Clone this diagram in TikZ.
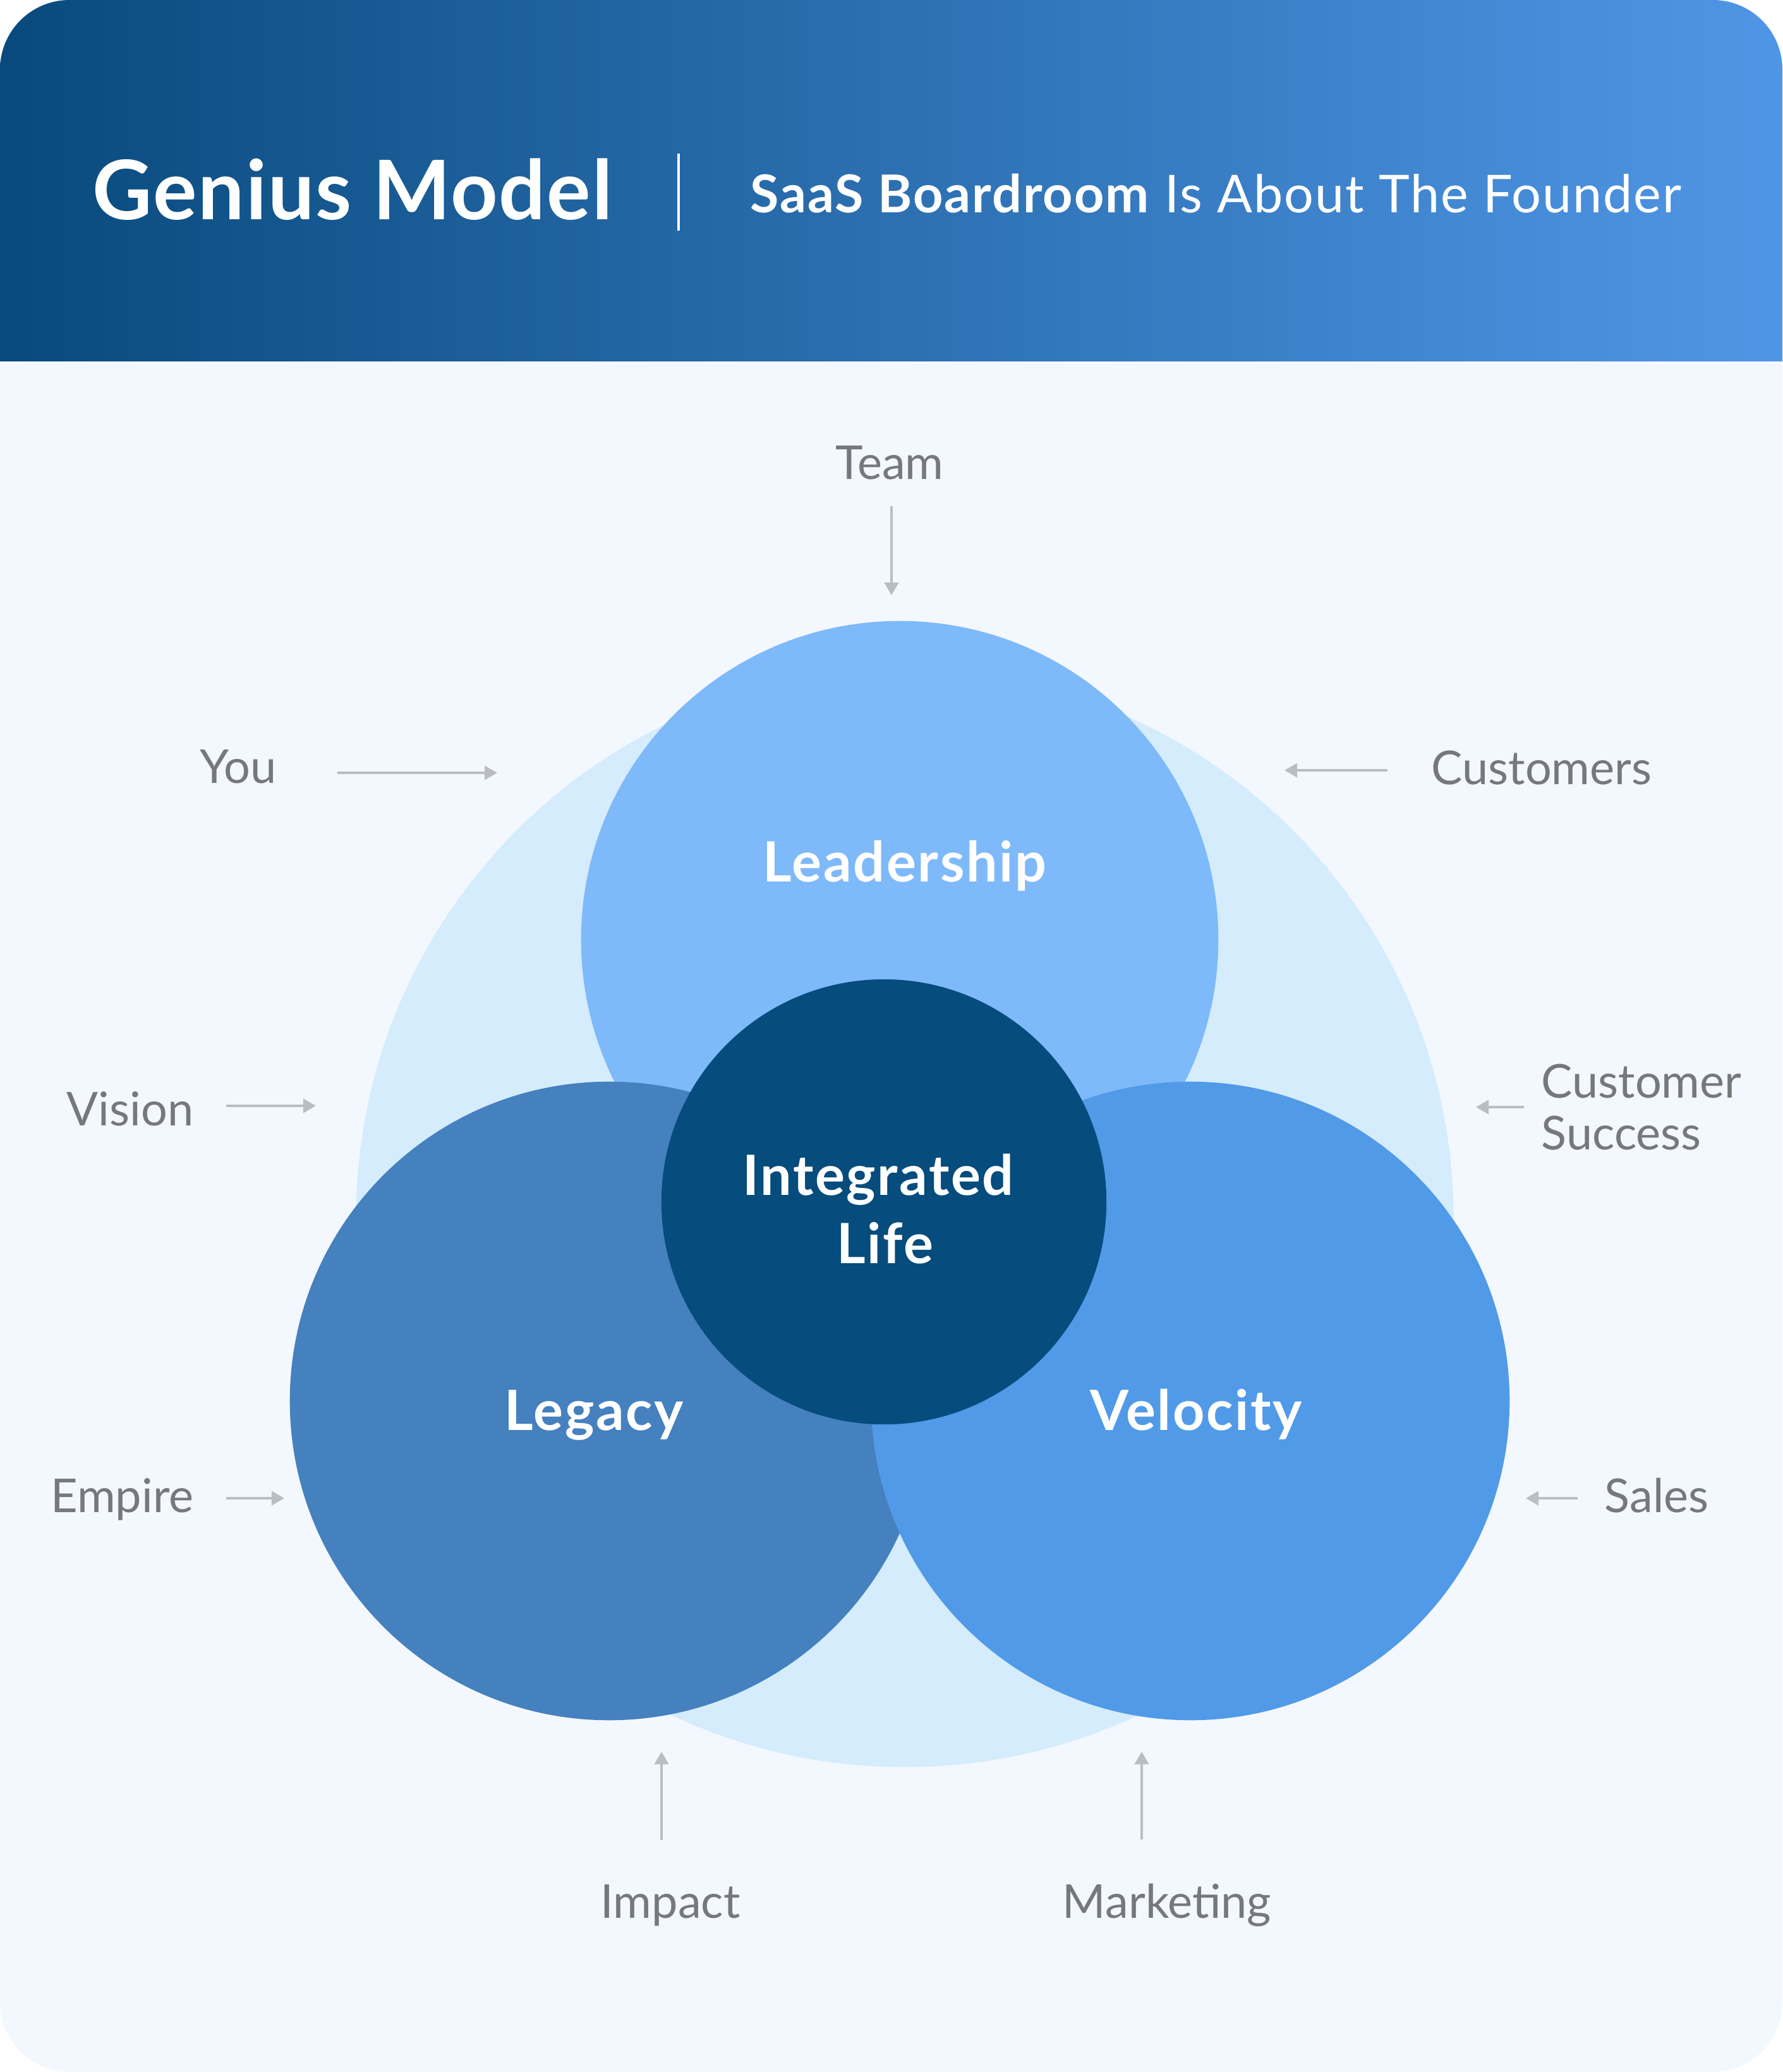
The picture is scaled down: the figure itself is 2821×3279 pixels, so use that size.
\documentclass[tikz,border=0pt]{standalone}
\usepackage{fontspec}
\setmainfont{Lato}
\usetikzlibrary{arrows.meta, positioning, shapes.geometric}

\definecolor{cardbg}{HTML}{F3F8FE}
\definecolor{headleft}{HTML}{084A7D}
\definecolor{headright}{HTML}{5096E6}
\definecolor{haloblue}{HTML}{D4ECFC}
\definecolor{leadblue}{HTML}{7EB9FA}
\definecolor{legacyblue}{HTML}{4580BF}
\definecolor{velocityblue}{HTML}{519AE8}
\definecolor{coreblue}{HTML}{064C7D}
\definecolor{labelgray}{HTML}{76787B}
\definecolor{arrowgray}{HTML}{BBBEC1}

\begin{document}
\begin{tikzpicture}[
    x=0.01cm, y=-0.01cm,
    ring/.style={circle, inner sep=0pt, draw=none},
    title/.style={
        font=\fontsize{25}{30}\selectfont\bfseries\addfontfeatures{LetterSpace=3},
        text=white,
        inner sep=0pt
    },
    tag/.style={
        font=\fontsize{21}{23.3}\selectfont,
        text=labelgray,
        inner sep=0pt
    },
    feed/.style={-{Triangle[length=0.2cm, width=0.22cm]}, line width=0.04cm, draw=arrowgray}
]
% card and header band
\fill[white] (0,0) rectangle (2821,3279);
\begin{scope}
\clip[rounded corners=1.1cm] (0,0) rectangle (2821,3279);
\fill[cardbg] (0,0) rectangle (2821,3279);
\shade[left color=headleft, right color=headright] (0,0) rectangle (2821,571);
\end{scope}

\node[anchor=base west, inner sep=0pt, text=white, font=\fontsize{37}{42}\selectfont\bfseries\addfontfeatures{LetterSpace=1.5}] (heading) at (146,348) {Genius Model};
\draw[white, line width=0.04cm] (1074,243) -- (1074,365);
\node[anchor=base west, inner sep=0pt, text=white, font=\fontsize{23.5}{28}\selectfont\addfontfeatures{LetterSpace=2.4}] (subheading) at (1187,337) {\textbf{SaaS Boardroom} Is About The Founder};

% circles
\node[ring, fill=haloblue, minimum size=17.36cm] (halo) at (1432,1928) {};
\node[ring, fill=leadblue, minimum size=10.08cm] (leadership) at (1424,1487) {};
\node[ring, fill=legacyblue, minimum size=10.1cm] (legacy) at (964,2217) {};
\node[ring, fill=velocityblue, minimum size=10.1cm] (velocity) at (1884,2217) {};
\node[ring, fill=coreblue, minimum size=7.04cm] (core) at (1399,1902) {};

\node[title, anchor=base] (leadership-text) at (1432,1395) {Leadership};
\node[title, anchor=base] (legacy-text) at (940,2263) {Legacy};
\node[title, anchor=base] (velocity-text) at (1893,2263) {Velocity};
\node[title, anchor=base] (core-text1) at (1390,1891) {Integrated};
\node[title, anchor=base] (core-text2) at (1401,1999) {Life};

% outer labels
\node[tag, anchor=base] (team) at (1408,758) {Team};
\node[tag, anchor=base east] (you) at (438,1239) {You};
\node[tag, anchor=base west] (customers) at (2265,1241) {Customers};
\node[tag, anchor=base east] (vision) at (307,1781) {Vision};
\node[tag, anchor=west, align=left] (success) at (2439,1752) {Customer\\Success};
\node[tag, anchor=base east] (empire) at (307,2393) {Empire};
\node[tag, anchor=base west] (sales) at (2539,2393) {Sales};
\node[tag, anchor=base] (impact) at (1061,3035) {Impact};
\node[tag, anchor=base] (marketing) at (1847,3035) {Marketing};

\coordinate (team-in) at (1411,942);
\coordinate (you-in) at (787,1223);
\coordinate (customers-in) at (2033,1219);
\coordinate (vision-in) at (500,1750);
\coordinate (success-in) at (2336,1752);
\coordinate (empire-in) at (450,2371);
\coordinate (sales-in) at (2415,2371);
\coordinate (impact-in) at (1047,2772);
\coordinate (marketing-in) at (1807,2772);

\draw[feed, shorten <=0.42cm] (team.south -| team-in) -- (team-in);
\draw[feed, shorten <=0.96cm] (you.east |- you-in) -- (you-in);
\draw[feed, shorten <=0.69cm] (customers.west |- customers-in) -- (customers-in);
\draw[feed, shorten <=0.51cm] (vision.east |- vision-in) -- (vision-in);
\draw[feed, shorten <=0.27cm] (success.west |- success-in) -- (success-in);
\draw[feed, shorten <=0.51cm] (empire.east |- empire-in) -- (empire-in);
\draw[feed, shorten <=0.42cm] (sales.west |- sales-in) -- (sales-in);
\draw[feed, shorten <=0.69cm] (impact.north -| impact-in) -- (impact-in);
\draw[feed, shorten <=0.69cm] (marketing.north -| marketing-in) -- (marketing-in);
\end{tikzpicture}
\end{document}
